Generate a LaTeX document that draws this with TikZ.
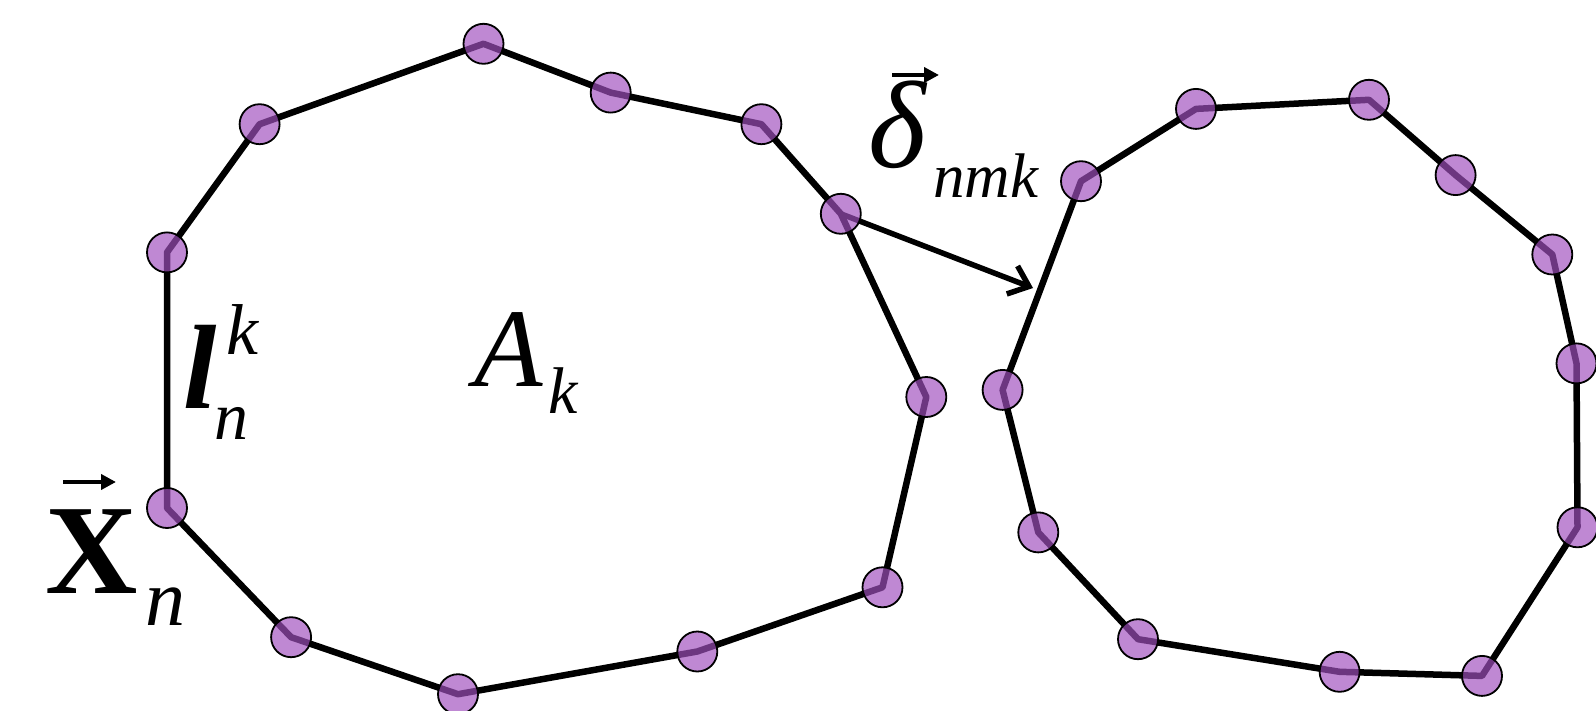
\documentclass[tikz,border=0pt]{standalone}
\usepackage{fontspec}
\setmainfont{Liberation Serif}
\usetikzlibrary{arrows.meta}
\definecolor{dotfill}{RGB}{160,80,190}
\begin{document}
\begin{tikzpicture}[x=1pt,y=-1pt,
  edge/.style={line width=6.5pt,line join=round},
  dot/.style={circle,minimum size=40pt,inner sep=0pt,draw=black,line width=1.8pt,fill=dotfill,fill opacity=0.68},
  lab/.style={inner sep=0pt,anchor=base west},
  accent/.style={line width=4pt,-{Triangle[length=15pt,width=15pt]}}]
\useasboundingbox (0,0) rectangle (1596,711);
% left polygon vertices
\coordinate (L1) at (483.5,43.8);
\coordinate (L2) at (610.7,92.6);
\coordinate (L3) at (761.4,124.2);
\coordinate (L4) at (840.8,213.8);
\coordinate (L5) at (926.3,397);
\coordinate (L6) at (882.5,587.3);
\coordinate (L7) at (697.3,651.5);
\coordinate (L8) at (458,694.2);
\coordinate (L9) at (291.1,637.2);
\coordinate (L10) at (167,508);
\coordinate (L11) at (167,252.4);
\coordinate (L12) at (259.6,124.2);
% right polygon vertices
\coordinate (R1) at (1196,108.9);
\coordinate (R2) at (1369,99.8);
\coordinate (R3) at (1455.6,175.1);
\coordinate (R4) at (1552.3,254.5);
\coordinate (R5) at (1576.5,363.4);
\coordinate (R6) at (1577.5,527.3);
\coordinate (R7) at (1482,675.9);
\coordinate (R8) at (1339.6,671.8);
\coordinate (R9) at (1138,639.2);
\coordinate (R10) at (1038.3,532.4);
\coordinate (R11) at (1002.6,389.9);
\coordinate (R12) at (1081,181.2);
\draw[edge] (L1)--(L2)--(L3)--(L4)--(L5)--(L6)--(L7)--(L8)--(L9)--(L10)--(L11)--(L12)--cycle;
\draw[edge] (R1)--(R2)--(R3)--(R4)--(R5)--(R6)--(R7)--(R8)--(R9)--(R10)--(R11)--(R12)--cycle;
\coordinate (tip) at (1033,288);
\draw[line width=5.5pt,-{Straight Barb[length=18pt,width=30pt]}] (L4)--(tip);
\foreach \p in {L1,L2,L3,L4,L5,L6,L7,L8,L9,L10,L11,L12,R1,R2,R3,R4,R5,R6,R7,R8,R9,R10,R11,R12}
  \node[dot] (d\p) at (\p) {};
% labels
\node[lab,font=\bfseries\fontsize{128}{128}\selectfont] (X) at (45,593) {X};
\node[lab,font=\itshape\fontsize{80}{80}\selectfont] (Xn) at (145,625) {n};
\draw[accent] ([xshift=18pt,yshift=111pt]X.base west) -- ++(53,0);
\node[lab,font=\bfseries\itshape\fontsize{120}{120}\selectfont] (l) at (183,408) {l};
\node[lab,font=\itshape\fontsize{72}{72}\selectfont] (lk) at (226,355) {k};
\node[lab,font=\itshape\fontsize{68}{68}\selectfont] (ln) at (214,439) {n};
\node[lab,font=\itshape\fontsize{112}{112}\selectfont] (A) at (474,386) {A};
\node[lab,font=\itshape\fontsize{66}{66}\selectfont] (Ak) at (548,413) {k};
\node[lab,font=\itshape\fontsize{124}{124}\selectfont] (d) at (868,168) {δ};
\node[lab,font=\itshape\fontsize{63}{63}\selectfont] (dnmk) at (933,198) {nmk};
\draw[accent] ([xshift=24pt,yshift=93pt]d.base west) -- ++(47,0);
\end{tikzpicture}
\end{document}
